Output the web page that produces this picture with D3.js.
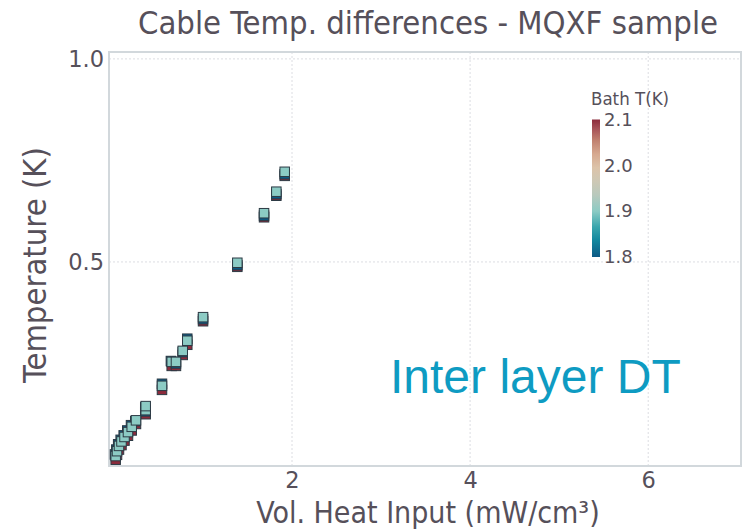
<!DOCTYPE html>
<html>
<head>
<meta charset="utf-8">
<script src="https://cdn.jsdelivr.net/npm/d3@7"></script>
<style>
  body { margin: 0; background: #fff; }
  svg text { font-family: "DejaVu Sans", sans-serif; fill: #56505a; }
</style>
</head>
<body>
<div id="chart"></div>
<script>
// bath temperatures of each series (K)
const bathTemps = [2.1, 1.8, 1.9];

// heat input (mW/cm3) and temperature difference (K), one pair of arrays per bath temperature
const x21 = [0.02, 0.035, 0.057, 0.085, 0.119, 0.158, 0.2, 0.248, 0.357, 0.357, 0.54, 0.649, 0.697, 0.773, 0.824, 1.001, 1.386, 1.686, 1.824, 1.918];
const y21 = [0.013, 0.025, 0.038, 0.049, 0.060, 0.072, 0.085, 0.101, 0.125, 0.135, 0.185, 0.244, 0.244, 0.271, 0.296, 0.354, 0.488, 0.610, 0.663, 0.712];

const x18 = [0.012, 0.027, 0.048, 0.076, 0.110, 0.150, 0.192, 0.240, 0.352, 0.352, 0.540, 0.640, 0.697, 0.773, 0.824, 1.001, 1.386, 1.686, 1.824, 1.918];
const y18 = [0.026, 0.038, 0.051, 0.062, 0.073, 0.085, 0.098, 0.108, 0.132, 0.142, 0.200, 0.256, 0.250, 0.278, 0.311, 0.359, 0.492, 0.614, 0.667, 0.716];

const x19 = [0.02, 0.035, 0.057, 0.085, 0.119, 0.158, 0.2, 0.248, 0.357, 0.357, 0.54, 0.649, 0.697, 0.773, 0.824, 1.001, 1.386, 1.686, 1.824, 1.918];
const y19 = [0.022, 0.034, 0.047, 0.058, 0.069, 0.081, 0.094, 0.110, 0.135, 0.145, 0.195, 0.254, 0.254, 0.281, 0.306, 0.364, 0.498, 0.620, 0.673, 0.722];

const xTicks = [2, 4, 6];
const yTicks = [0.5, 1.0];
const cbTicks = [1.8, 1.9, 2.0, 2.1];

const title = 'Cable Temp. differences - MQXF sample';
const xTitle = 'Vol. Heat Input (mW/cm³)';
const yTitle = 'Temperature (K)';
const cbTitle = 'Bath T(K)';
const note = 'Inter layer DT';

// colour scale stops (bottom to top of the bar)
const cStops = [1.8, 1.836, 1.866, 1.9, 1.935, 1.965, 1.995, 2.025, 2.055, 2.08, 2.1];
const cColors = ['#0d5a85', '#12879e', '#3aa6ad', '#8ccbc4', '#b8c9bd', '#cdc8b5', '#dcc3a9', '#d6a88f', '#c0806f', '#a65258', '#8c2b3c'];

const series = [
  { t: bathTemps[0], x: x21, y: y21 },
  { t: bathTemps[1], x: x18, y: y18 },
  { t: bathTemps[2], x: x19, y: y19 }
];

const width = 745, height = 532;
const m = { left: 109, right: 4, top: 52, bottom: 66 };

const svg = d3.select('#chart').append('svg')
  .attr('width', width)
  .attr('height', height);

const xScale = d3.scaleLinear().domain([-0.055, 7.042]).range([m.left, width - m.right]);
const yScale = d3.scaleLinear().domain([-0.0025, 1.017]).range([height - m.bottom, m.top]);
const color = d3.scaleLinear().domain(cStops).range(cColors);

// grid
const grid = svg.append('g');
grid.selectAll('.vg').data(xTicks).enter().append('line')
  .attr('x1', d => xScale(d)).attr('x2', d => xScale(d))
  .attr('y1', m.top).attr('y2', height - m.bottom)
  .style('stroke', '#dcdde2').style('stroke-width', 1).style('stroke-dasharray', '2,2');
grid.selectAll('.hg').data(yTicks).enter().append('line')
  .attr('y1', d => yScale(d)).attr('y2', d => yScale(d))
  .attr('x1', m.left).attr('x2', width - m.right)
  .style('stroke', '#dcdde2').style('stroke-width', 1).style('stroke-dasharray', '2,2');

// frame
svg.append('rect')
  .attr('x', m.left).attr('y', m.top)
  .attr('width', width - m.left - m.right)
  .attr('height', height - m.top - m.bottom)
  .style('fill', 'none').style('stroke', '#d2d8dc').style('stroke-width', 2);

// axes (labels only)
const xAxis = svg.append('g')
  .attr('transform', 'translate(0,' + (height - m.bottom) + ')')
  .call(d3.axisBottom(xScale).tickValues(xTicks).tickFormat(d3.format('d')).tickSize(0).tickPadding(6));
const yAxis = svg.append('g')
  .attr('transform', 'translate(' + m.left + ',0)')
  .call(d3.axisLeft(yScale).tickValues(yTicks).tickFormat(d3.format('.1f')).tickSize(0).tickPadding(5));
[xAxis, yAxis].forEach(a => {
  a.select('.domain').remove();
  a.selectAll('text').style('font-size', '22.5px').style('fill', '#56505a').style('font-family', '"DejaVu Sans", sans-serif');
});

// markers
const side = 9.5;
series.forEach(s => {
  svg.append('g').selectAll('rect')
    .data(s.x.map((v, i) => [v, s.y[i]]))
    .enter()
    .append('rect')
    .attr('x', d => xScale(d[0]) - side / 2)
    .attr('y', d => yScale(d[1]) - side / 2)
    .attr('width', side)
    .attr('height', side)
    .style('fill', color(s.t))
    .style('stroke', '#2c3a44')
    .style('stroke-width', 1);
});

// colorbar
const cbX = 592, cbW = 8;
const cbScale = d3.scaleLinear().domain([1.8, 2.1]).range([257, 119.5]);
const grad = svg.append('defs').append('linearGradient')
  .attr('id', 'cb').attr('x1', 0).attr('x2', 0).attr('y1', 1).attr('y2', 0);
grad.selectAll('stop').data(cStops).enter().append('stop')
  .attr('offset', d => (d - 1.8) / 0.3)
  .attr('stop-color', (d, i) => cColors[i]);
svg.append('rect')
  .attr('x', cbX).attr('y', cbScale(2.1))
  .attr('width', cbW).attr('height', cbScale(1.8) - cbScale(2.1))
  .style('fill', 'url(#cb)');
svg.append('g')
  .attr('transform', 'translate(' + (cbX + cbW) + ',0)')
  .call(d3.axisRight(cbScale).tickValues(cbTicks).tickFormat(d3.format('.1f')).tickSize(0).tickPadding(4))
  .call(g => g.select('.domain').remove())
  .selectAll('text').style('font-size', '18px').style('fill', '#56505a').style('font-family', '"DejaVu Sans", sans-serif');
svg.append('text')
  .attr('x', cbX - 1).attr('y', 105)
  .style('font-size', '18.5px')
  .style('font-stretch', 'condensed')
  .text(cbTitle);

// titles
svg.append('text')
  .attr('x', 428).attr('y', 34)
  .style('text-anchor', 'middle')
  .style('font-size', '32.5px')
  .style('font-stretch', 'condensed')
  .text(title);
svg.append('text')
  .attr('x', 428).attr('y', 523)
  .style('text-anchor', 'middle')
  .style('font-size', '30px')
  .style('font-stretch', 'condensed')
  .text(xTitle);
svg.append('text')
  .attr('transform', 'translate(46,265) rotate(-90)')
  .style('text-anchor', 'middle')
  .style('font-size', '32.5px')
  .style('font-stretch', 'condensed')
  .text(yTitle);

// annotation
svg.append('text')
  .attr('x', 390).attr('y', 393)
  .style('font-family', '"Liberation Sans", Arial, sans-serif')
  .style('font-size', '48px')
  .style('fill', '#0e9bc2')
  .text(note);
</script>
</body>
</html>
